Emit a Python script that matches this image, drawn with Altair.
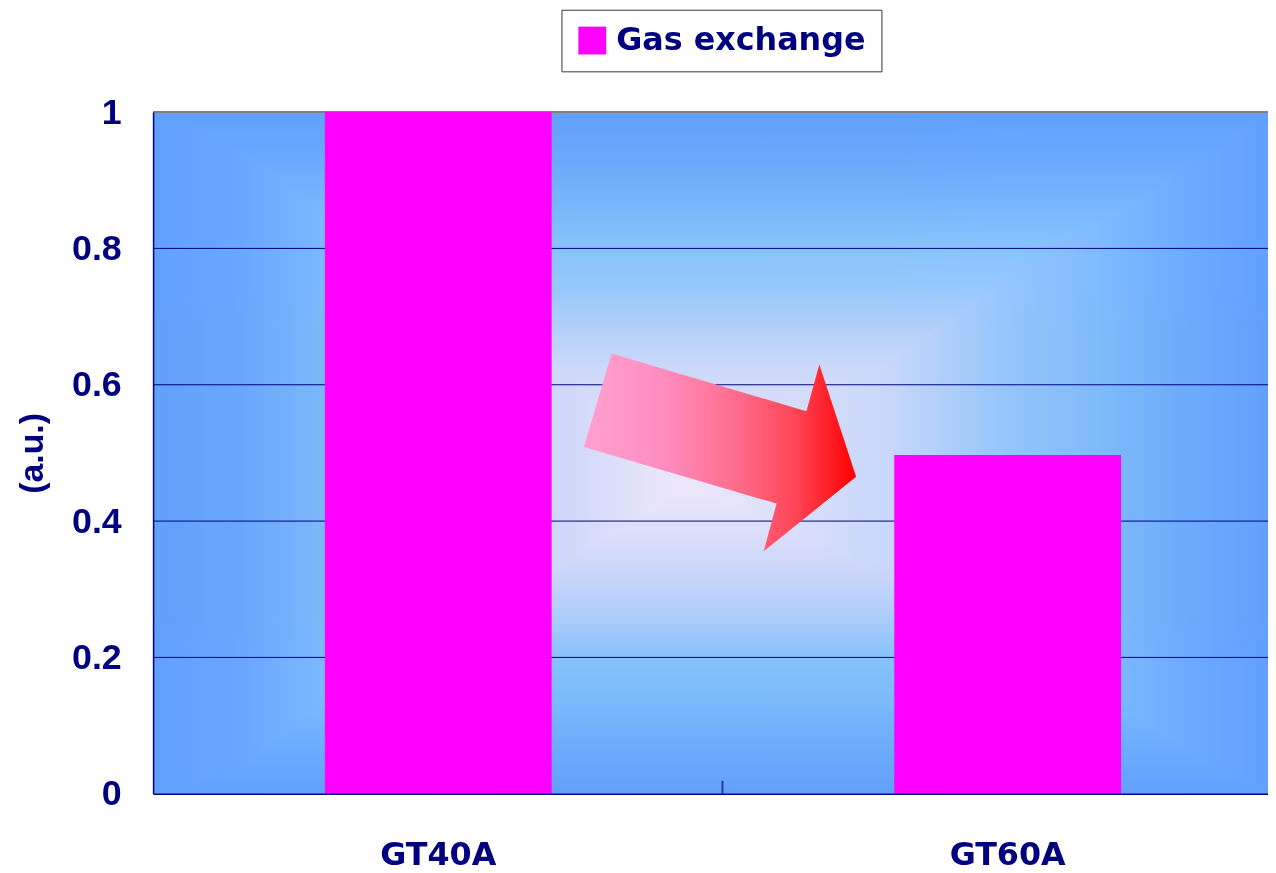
import altair as alt
import pandas as pd

# ---- data ----
categories = ["GT40A", "GT60A"]
values = [1.0, 0.497]
series = ["Gas exchange", "Gas exchange"]
y_ticks = [0, 0.2, 0.4, 0.6, 0.8, 1.0]
grid_levels = [0.2, 0.4, 0.6, 0.8]
top_level = [1.0]
arrow_cat = ["GT60A"]
arrow_level = [0.5]
tick_cat = ["GT40A"]
tick_from = [0.0]
tick_to = [0.019]

NAVY = "#000080"

bars_df = pd.DataFrame({"cat": categories, "val": values, "series": series})
grid_df = pd.DataFrame({"val": grid_levels})
top_df = pd.DataFrame({"val": top_level})
arrow_df = pd.DataFrame({"cat": arrow_cat, "val": arrow_level})
tick_df = pd.DataFrame({"cat": tick_cat, "val": tick_from, "val2": tick_to})

# ---- styles ----
def stops(pairs):
    return [{"offset": o, "color": c} for o, c in pairs]

bg_h = {"gradient": "linear", "x1": 0, "y1": 0, "x2": 1, "y2": 0,
        "stops": stops([(0, "#61A0FF"), (0.077, "#69A6FF"), (0.153, "#7BB8FF"),
                        (0.25, "#96C6FF"), (0.36, "#CDD7FA"), (0.478, "#EEE8FA"),
                        (0.66, "#C8D7FA"), (0.76, "#96C6FF"), (0.864, "#7BB8FF"),
                        (0.93, "#6CAAFF"), (1, "#61A0FF")])}
bg_v = {"gradient": "linear", "x1": 0, "y1": 0, "x2": 0, "y2": 1,
        "stops": stops([(0, "#61A0FF"), (0.064, "#69A8FF"), (0.128, "#76B4FF"),
                        (0.2, "#87C3FF"), (0.26, "#96C8FF"), (0.32, "#B4D0FA"),
                        (0.38, "#CDD9FA"), (0.45, "#DADEFA"), (0.55, "#EEE8FA"),
                        (0.67, "#CDD7FA"), (0.735, "#AFCDFA"), (0.8, "#87C3FF"),
                        (0.865, "#7AB9FF"), (0.93, "#6CACFF"), (1, "#61A0FF")])}
arrow_grad = {"gradient": "linear", "x1": 0, "y1": 0.5, "x2": 1, "y2": 0.5,
              "stops": stops([(0, "#FFA0D0"), (0.3, "#FF8CBE"), (0.55, "#FF6E8E"),
                              (0.78, "#FF4455"), (1, "#FF0000")])}
ARROW_PATH = ("M-398.5,-100 L-202.5,-42 L-189.5,-89 L-152.5,24 "
              "L-245.5,99 L-232.5,51 L-426.5,-6 Z")

x_scale = alt.Scale(domain=categories, range=[0, 1147], round=False,
                    paddingInner=0.6018, paddingOuter=0.3018)
y_scale = alt.Scale(domain=[0, 1], nice=False, zero=True)

x_axis = alt.Axis(title=None, labelAngle=0, ticks=False, tickSize=0, labelPadding=46,
                  labelFont="DejaVu Sans", labelFontSize=32, labelFontWeight="bold",
                  labelColor=NAVY, domainColor=NAVY, domainWidth=1.5, grid=False, zindex=1)
y_axis = alt.Axis(title="(a.u.)", values=y_ticks, format="~g", ticks=False, tickSize=0,
                  labelPadding=32, labelFont="Liberation Sans", labelFontSize=36,
                  labelFontWeight="bold", labelColor=NAVY, domainColor=NAVY,
                  domainWidth=1.5, grid=False, titleFont="Liberation Sans",
                  titleFontSize=34, titleFontWeight="bold", titleColor=NAVY,
                  titlePadding=22, zindex=1)

X = alt.X("cat:N", scale=x_scale, axis=x_axis)
Y = alt.Y("val:Q", scale=y_scale, axis=y_axis)

base_bg = alt.Chart(alt.Data(values=[{}])).mark_rect(
    fill=bg_h, strokeWidth=0
).encode(x=alt.value(0), x2=alt.value("width"), y=alt.value(0), y2=alt.value("height"))

overlay = alt.Chart(alt.Data(values=[{}])).mark_rect(
    fill=bg_v, blend="darken", strokeWidth=0
).encode(x=alt.value(0), x2=alt.value("width"), y=alt.value(0), y2=alt.value("height"))

grid = alt.Chart(grid_df).mark_rule(color=NAVY, strokeWidth=1).encode(y=Y)

top = alt.Chart(top_df).mark_rule(color="#808080", strokeWidth=2).encode(y=Y)

bars = alt.Chart(bars_df).mark_bar(strokeWidth=0).encode(
    x=X,
    y=Y,
    color=alt.Color("series:N", scale=alt.Scale(range=["#FF00FF"]),
                    legend=alt.Legend(title=None, orient="none", legendX=411, legendY=-103,
                                      direction="horizontal", symbolType="square",
                                      symbolSize=784, symbolStrokeWidth=0,
                                      labelFont="DejaVu Sans", labelFontSize=32,
                                      labelFontWeight="bold", labelColor=NAVY,
                                      labelOffset=8, padding=15, strokeColor="#333333",
                                      fillColor="white", labelLimit=0)),
)

tick = alt.Chart(tick_df).mark_rule(color="#2838B4", strokeWidth=2, xOffset=286).encode(
    x=X, y=Y, y2="val2:Q",
)

arrow = alt.Chart(arrow_df).mark_point(
    shape=ARROW_PATH, size=4, filled=True, fill=arrow_grad, opacity=1, strokeWidth=0
).encode(x=X, y=Y)

chart = alt.layer(base_bg, overlay, grid, top, bars, tick, arrow).properties(
    width=1122, height=686,
    padding={"left": 146, "top": 102, "right": 0, "bottom": 76},
    autosize=alt.AutoSizeParams(type="none"),
).configure_view(stroke=None)

chart.save("out.html", embed_options={"renderer": "svg", "actions": False})
